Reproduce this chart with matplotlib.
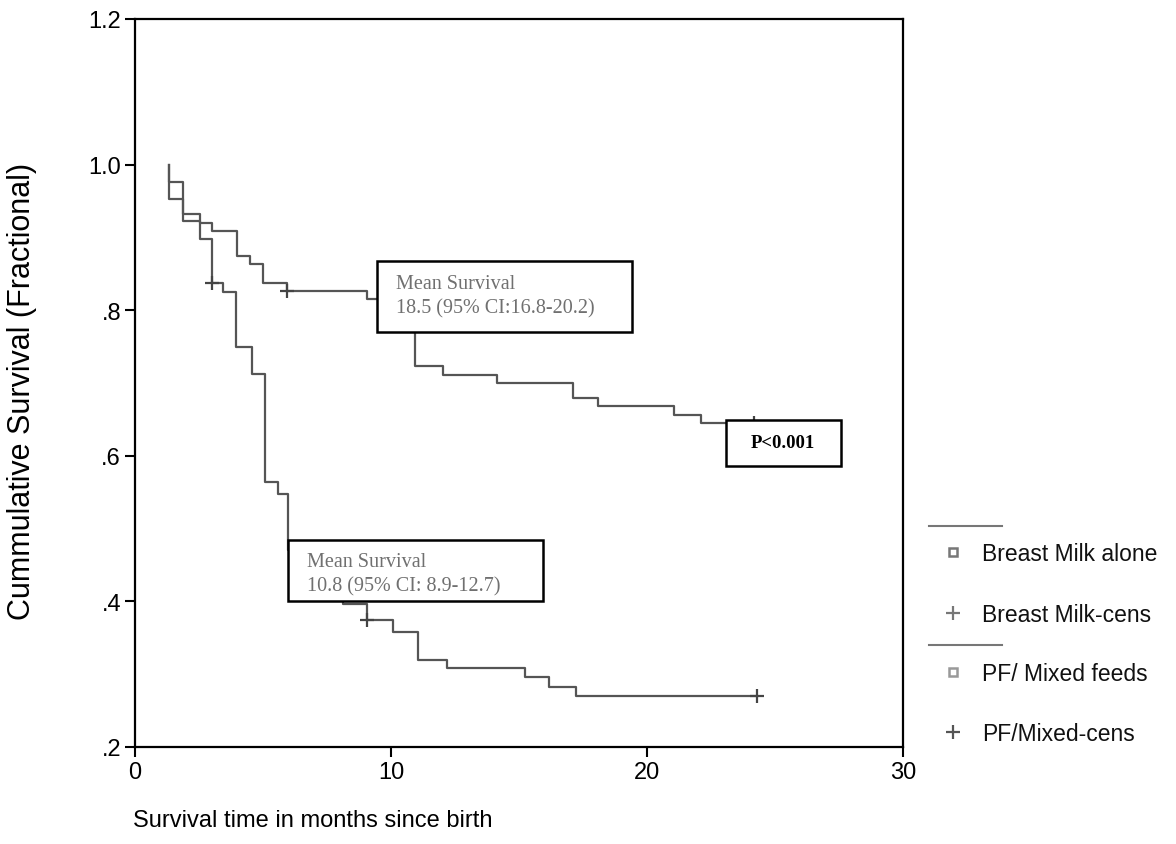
import matplotlib
matplotlib.use('Agg')
import matplotlib.pyplot as plt
from matplotlib.patches import Rectangle

# Kaplan-Meier steps (time in months, cumulative survival)
bm_start = 1.34
bm_time = [1.34, 1.89, 2.54, 3.0, 3.97, 4.49, 5.01, 5.93, 9.05, 10.94,
           12.04, 14.13, 17.12, 18.10, 21.05, 22.1]
bm_surv = [0.976, 0.932, 0.920, 0.909, 0.874, 0.863, 0.838, 0.827, 0.815,
           0.723, 0.711, 0.700, 0.680, 0.668, 0.656, 0.645]
bm_end = 24.18
bm_cens_time = [5.93, 24.18]
bm_cens_surv = [0.827, 0.645]

pf_start = 1.34
pf_time = [1.34, 1.89, 2.54, 3.0, 3.45, 3.96, 4.56, 5.08, 5.60, 5.99, 7.0,
           8.13, 9.05, 10.09, 11.07, 12.18, 15.25, 16.17, 17.23]
pf_surv = [0.953, 0.923, 0.898, 0.838, 0.825, 0.749, 0.712, 0.564, 0.548,
           0.47, 0.43, 0.396, 0.374, 0.358, 0.319, 0.308, 0.296, 0.282, 0.270]
pf_end = 24.29
pf_cens_time = [3.0, 9.05, 24.29]
pf_cens_surv = [0.838, 0.374, 0.270]

y_ticks = [0.2, 0.4, 0.6, 0.8, 1.0, 1.2]
y_ticklabels = ['.2', '.4', '.6', '.8', '1.0', '1.2']
x_ticks = [0, 10, 20, 30]

legend_labels = ['Breast Milk alone', 'Breast Milk-cens',
                 'PF/ Mixed feeds', 'PF/Mixed-cens']

sans = 'Liberation Sans'
serif = 'Liberation Serif'
line_col = '#555555'


def km_path(start, times, surv, end):
    x = [start] + list(times) + [end]
    y = [1.0] + list(surv) + [surv[-1]]
    return x, y


fig = plt.figure(figsize=(11.76, 8.45), dpi=100)
ax = fig.add_axes([135 / 1176, 1 - 748 / 845, 768 / 1176, 728 / 845])

for start, t, s, end, ct, cs in [
        (bm_start, bm_time, bm_surv, bm_end, bm_cens_time, bm_cens_surv),
        (pf_start, pf_time, pf_surv, pf_end, pf_cens_time, pf_cens_surv)]:
    x, y = km_path(start, t, s, end)
    ax.step(x, y, where='post', color=line_col, lw=1.6, zorder=2)
    ax.plot(ct, cs, ls='none', marker='+', ms=10, mew=1.6,
            color='#444444', zorder=2)

ax.set_xlim(0, 30)
ax.set_ylim(0.2, 1.2)
ax.set_xticks(x_ticks)
ax.set_xticklabels([str(v) for v in x_ticks], fontsize=17, family=sans)
ax.set_yticks(y_ticks)
ax.set_yticklabels(y_ticklabels, fontsize=17, family=sans)
ax.tick_params(direction='out', length=7, width=1.5, pad=3)
for sp in ax.spines.values():
    sp.set_linewidth(1.6)

ax.set_xlabel('Survival time in months since birth', fontsize=17, family=sans)
ax.xaxis.set_label_coords(0.232, -0.085)
ax.set_ylabel('Cummulative Survival (Fractional)', fontsize=22, family=sans)
ax.yaxis.set_label_coords(-0.128, 0.49)

# annotation boxes
boxes = [
    (9.45, 0.770, 9.96, 0.098, 'Mean Survival\n18.5 (95% CI:16.8-20.2)', 10.18, 0.820),
    (5.98, 0.401, 9.96, 0.083, 'Mean Survival\n10.8 (95% CI: 8.9-12.7)', 6.72, 0.438),
]
for bx, by, bw, bh, txt, tx, ty in boxes:
    ax.add_patch(Rectangle((bx, by), bw, bh, facecolor='white',
                           edgecolor='black', lw=1.8, zorder=3))
    ax.text(tx, ty, txt, family=serif, fontsize=14.5, color='#707070',
            va='center', ha='left', linespacing=1.35, zorder=4)

ax.add_patch(Rectangle((23.09, 0.5864), 4.48, 0.0632, facecolor='white',
                       edgecolor='black', lw=1.8, zorder=3))
ax.text(25.3, 0.618, 'P<0.001', family=serif, fontsize=13.5,
        fontweight='bold', ha='center', va='center', zorder=4)

# legend drawn by hand at the right of the plot
lax = fig.add_axes([0, 0, 1, 1])
lax.set_xlim(0, 1176)
lax.set_ylim(845, 0)
lax.axis('off')
lax.plot([929, 1002], [527, 527], color='#777777', lw=1.5)
lax.plot([929, 1002], [646, 646], color='#777777', lw=1.5)
markers = ['s', '+', 's', '+']
mcols = ['#777777', '#777777', '#999999', '#555555']
rows = [553, 614, 673, 733]
for lab, m, mc, ry in zip(legend_labels, markers, mcols, rows):
    if m == 's':
        lax.plot([953], [ry], marker='s', ms=6, mfc='white', mec=mc, mew=1.8,
                 ls='none')
    else:
        lax.plot([953], [ry], marker='+', ms=10, mew=1.6, color=mc, ls='none')
    lax.text(982, ry + 2, lab, family=sans, fontsize=16.5, va='center',
             ha='left', color='#111111')

fig.savefig('out.png', dpi=100)
